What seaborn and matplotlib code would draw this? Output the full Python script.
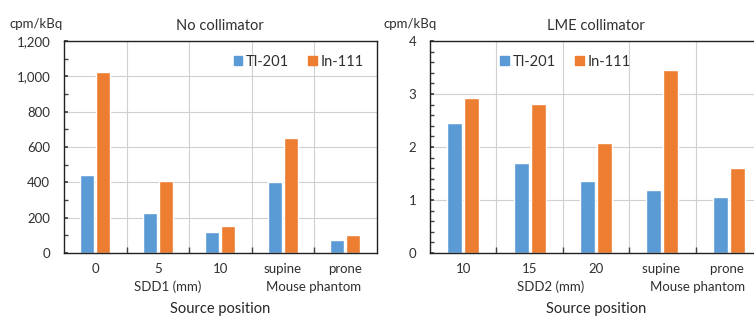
import matplotlib
matplotlib.use("Agg")
import matplotlib.pyplot as plt
import matplotlib.ticker as mticker
import seaborn as sns
import pandas as pd

# values
series = ["Tl-201", "In-111"]
colors = ["#5B9BD5", "#ED7D31"]

pos_no = ["0", "5", "10", "supine", "prone"]
tl_no = [440, 228, 119, 400, 72]
in_no = [1022, 408, 151, 649, 104]

pos_lme = ["10", "15", "20", "supine ", "prone "]
tl_lme = [2.45, 1.70, 1.35, 1.18, 1.06]
in_lme = [2.92, 2.82, 2.07, 3.46, 1.61]


def long_df(pos, a, b):
    return pd.DataFrame({
        "pos": pos + pos,
        "val": a + b,
        "iso": [series[0]] * len(pos) + [series[1]] * len(pos),
    })


sns.set_theme(style="white")
plt.rcParams["font.family"] = ["Lato", "DejaVu Sans"]
plt.rcParams["text.color"] = "#303030"
plt.rcParams["xtick.labelcolor"] = "#303030"
plt.rcParams["ytick.labelcolor"] = "#303030"

fig = plt.figure(figsize=(7.54, 3.16), dpi=100)
ax1 = fig.add_axes([0.0849, 0.1994, 0.4145, 0.6709])
ax2 = fig.add_axes([0.5703, 0.1994, 0.4403, 0.6709])

panels = [
    (ax1, long_df(pos_no, tl_no, in_no), "No collimator", 1200, 200, 100,
     [(1.16, "SDD1 (mm)"), (3.5, "Mouse phantom")], -0.088, (0.396, 0.804)),
    (ax2, long_df(pos_lme, tl_lme, in_lme), "LME collimator", 4, 1, 0.2,
     [(1.32, "SDD2 (mm)"), (3.53, "Mouse phantom")], -0.059, (0.750, 0.804)),
]

for ax, df, title, ymax, major, minor, groups, unit_x, leg_pos in panels:
    sns.barplot(data=df, x="pos", y="val", hue="iso", palette=colors,
                width=0.51, gap=0.12, saturation=1, ax=ax)
    ax.set_ylim(0, ymax)
    ax.set_xlim(-0.5, 4.5)
    ax.yaxis.set_major_locator(mticker.MultipleLocator(major))
    ax.yaxis.set_minor_locator(mticker.MultipleLocator(minor))
    if ymax > 100:
        ax.yaxis.set_major_formatter(mticker.StrMethodFormatter("{x:,.0f}"))
    ax.xaxis.set_minor_locator(mticker.FixedLocator([0.5, 1.5, 2.5, 3.5]))
    ax.tick_params(axis="x", which="major", length=0, labelsize=9.5, pad=7)
    ax.tick_params(axis="x", which="minor", length=4, direction="in",
                   color="#404040", bottom=True)
    ax.tick_params(axis="y", which="both", direction="in", length=3,
                   color="#404040", left=True, labelsize=9.5, pad=10)
    ax.grid(True, axis="y", which="major", color="#d0d0d0", lw=0.8)
    ax.grid(True, axis="x", which="minor", color="#d0d0d0", lw=0.8)
    ax.set_axisbelow(True)
    for s in ax.spines.values():
        s.set_color("#222222")
        s.set_linewidth(1.0)

    ax.set_ylabel("")
    ax.set_xlabel("Source position", fontsize=10.5)
    ax.xaxis.set_label_coords(0.5, -0.231)
    ax.set_title(title, fontsize=10.5, y=1.052, pad=0)
    ax.text(unit_x, 1.08, "cpm/kBq", transform=ax.transAxes,
            ha="center", va="center", fontsize=9.5)
    for gx, gtxt in groups:
        ax.text(gx, -0.16, gtxt, transform=ax.get_xaxis_transform(),
                ha="center", va="center", fontsize=9.5)

    ax.get_legend().remove()
    handles = [plt.Rectangle((0, 0), 1, 1, color=c) for c in colors]
    ax.legend(handles, series, loc="center", bbox_to_anchor=leg_pos,
              bbox_transform=fig.transFigure, ncol=2, frameon=False,
              fontsize=10.5, handlelength=0.6, handleheight=0.6,
              handletextpad=0.25, columnspacing=1.3)

fig.savefig("out.png", dpi=100)
